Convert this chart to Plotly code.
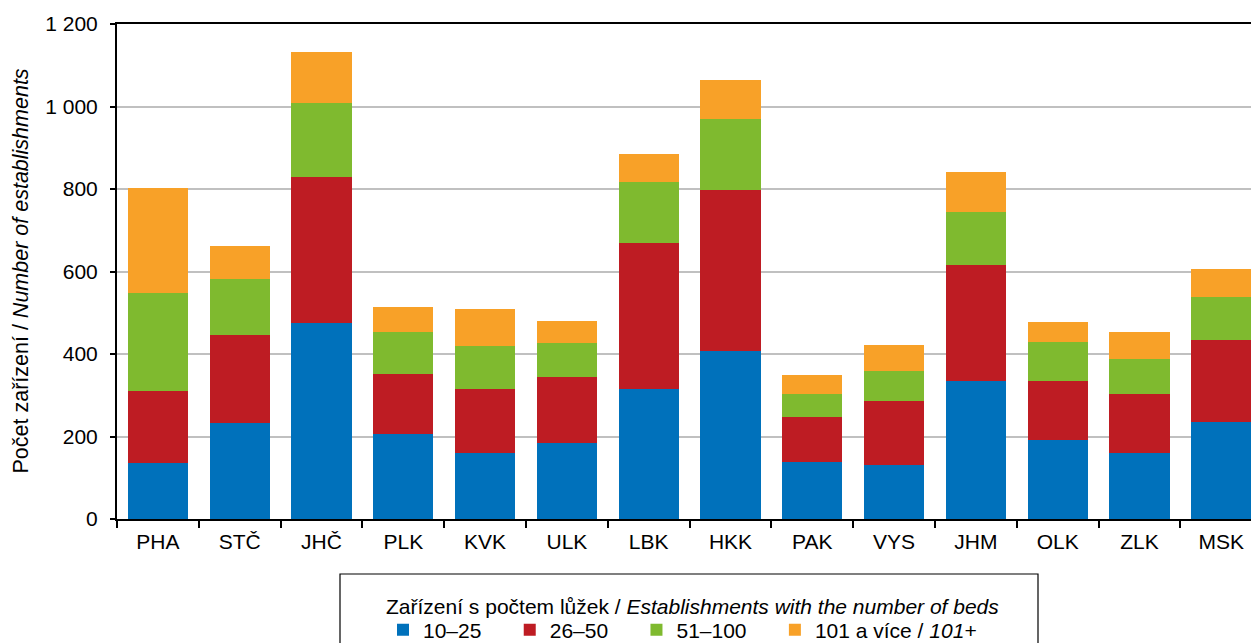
import plotly.graph_objects as go

# Regions (kraje) and number of establishments by bed-size group
regions = ["PHA", "STČ", "JHČ", "PLK", "KVK", "ULK", "LBK",
           "HKK", "PAK", "VYS", "JHM", "OLK", "ZLK", "MSK"]
beds_10_25 = [135, 233, 475, 205, 161, 185, 314, 408, 138, 132, 334, 191, 161, 236]
beds_26_50 = [175, 213, 355, 146, 155, 159, 356, 390, 110, 153, 281, 144, 141, 198]
beds_51_100 = [238, 137, 178, 102, 104, 82, 147, 172, 54, 75, 130, 94, 86, 103]
beds_101_plus = [255, 79, 125, 60, 88, 53, 68, 94, 46, 62, 97, 48, 66, 68]

series_names = ["10–25", "26–50", "51–100", "101 a více / <i>101+</i>"]
series_values = [beds_10_25, beds_26_50, beds_51_100, beds_101_plus]
series_colors = ["#0071BB", "#BE1C23", "#7FBA2F", "#F8A128"]

legend_title = "Zařízení s počtem lůžek / <i>Establishments with the number of beds</i>"
y_title = "Počet zařízení / <i>Number of establishments</i>"

font_family = "Liberation Sans, Arial, sans-serif"

# plot-area geometry in pixels (used to place the legend frame)
PLOT_L, PLOT_W = 117, 1134
PLOT_T, PLOT_H = 24, 495


def px_x(px):
    return (px - PLOT_L) / PLOT_W


def px_y(py):
    return (PLOT_T + PLOT_H - py) / PLOT_H


NB = "\u00a0"

fig = go.Figure()
for i, (name, vals, color) in enumerate(zip(series_names, series_values, series_colors)):
    pad = NB * 4 if i < len(series_names) - 1 else ""
    fig.add_trace(go.Bar(
        x=regions, y=vals, name=name + pad,
        marker=dict(color=color, line=dict(width=0)),
    ))

fig.update_layout(
    width=1251, height=643,
    barmode="stack", bargap=0.265,
    plot_bgcolor="white", paper_bgcolor="white",
    separators=", ",
    font=dict(family=font_family, size=21, color="#000000"),
    margin=dict(l=PLOT_L, r=0, t=PLOT_T, b=643 - PLOT_T - PLOT_H, autoexpand=False),
    showlegend=True,
    legend=dict(
        orientation="h",
        x=px_x(383), xanchor="left",
        y=px_y(630), yanchor="middle",
        bgcolor="rgba(0,0,0,0)", borderwidth=0,
        font=dict(family=font_family, size=21),
        traceorder="normal",
    ),
    xaxis=dict(
        type="category",
        range=[-0.5, -0.5 + PLOT_W / 81.8],
        showline=True, linecolor="#000000", linewidth=2,
        mirror=True,
        ticks="outside", ticklen=7, tickwidth=2, tickcolor="#000000",
        tickson="boundaries",
        ticklabelstandoff=3,
        showgrid=False,
        tickfont=dict(family=font_family, size=21),
    ),
    yaxis=dict(
        range=[0, 1200],
        tickvals=[0, 200, 400, 600, 800, 1000, 1200],
        tickformat=",d",
        showline=True, linecolor="#000000", linewidth=2,
        ticks="outside", ticklen=5, tickwidth=2, tickcolor="#000000",
        ticklabelstandoff=8,
        showgrid=True, gridcolor="#C0C0C0", gridwidth=1.5,
        zeroline=False,
        tickfont=dict(family=font_family, size=21),
    ),
    shapes=[dict(
        type="rect", xref="paper", yref="paper",
        x0=px_x(340), x1=px_x(1038), y0=px_y(574), y1=px_y(700),
        line=dict(color="#000000", width=1.2), fillcolor="rgba(0,0,0,0)",
    )],
    annotations=[
        dict(
            text=y_title,
            xref="paper", yref="paper",
            x=px_x(20), y=0.5,
            xanchor="center", yanchor="middle",
            textangle=-90, showarrow=False,
            font=dict(family=font_family, size=21.5),
        ),
        dict(
            text=legend_title,
            xref="paper", yref="paper",
            x=px_x(692), y=px_y(606),
            xanchor="center", yanchor="middle",
            showarrow=False,
            font=dict(family=font_family, size=21),
        ),
    ],
)

fig.write_html("out.html")
